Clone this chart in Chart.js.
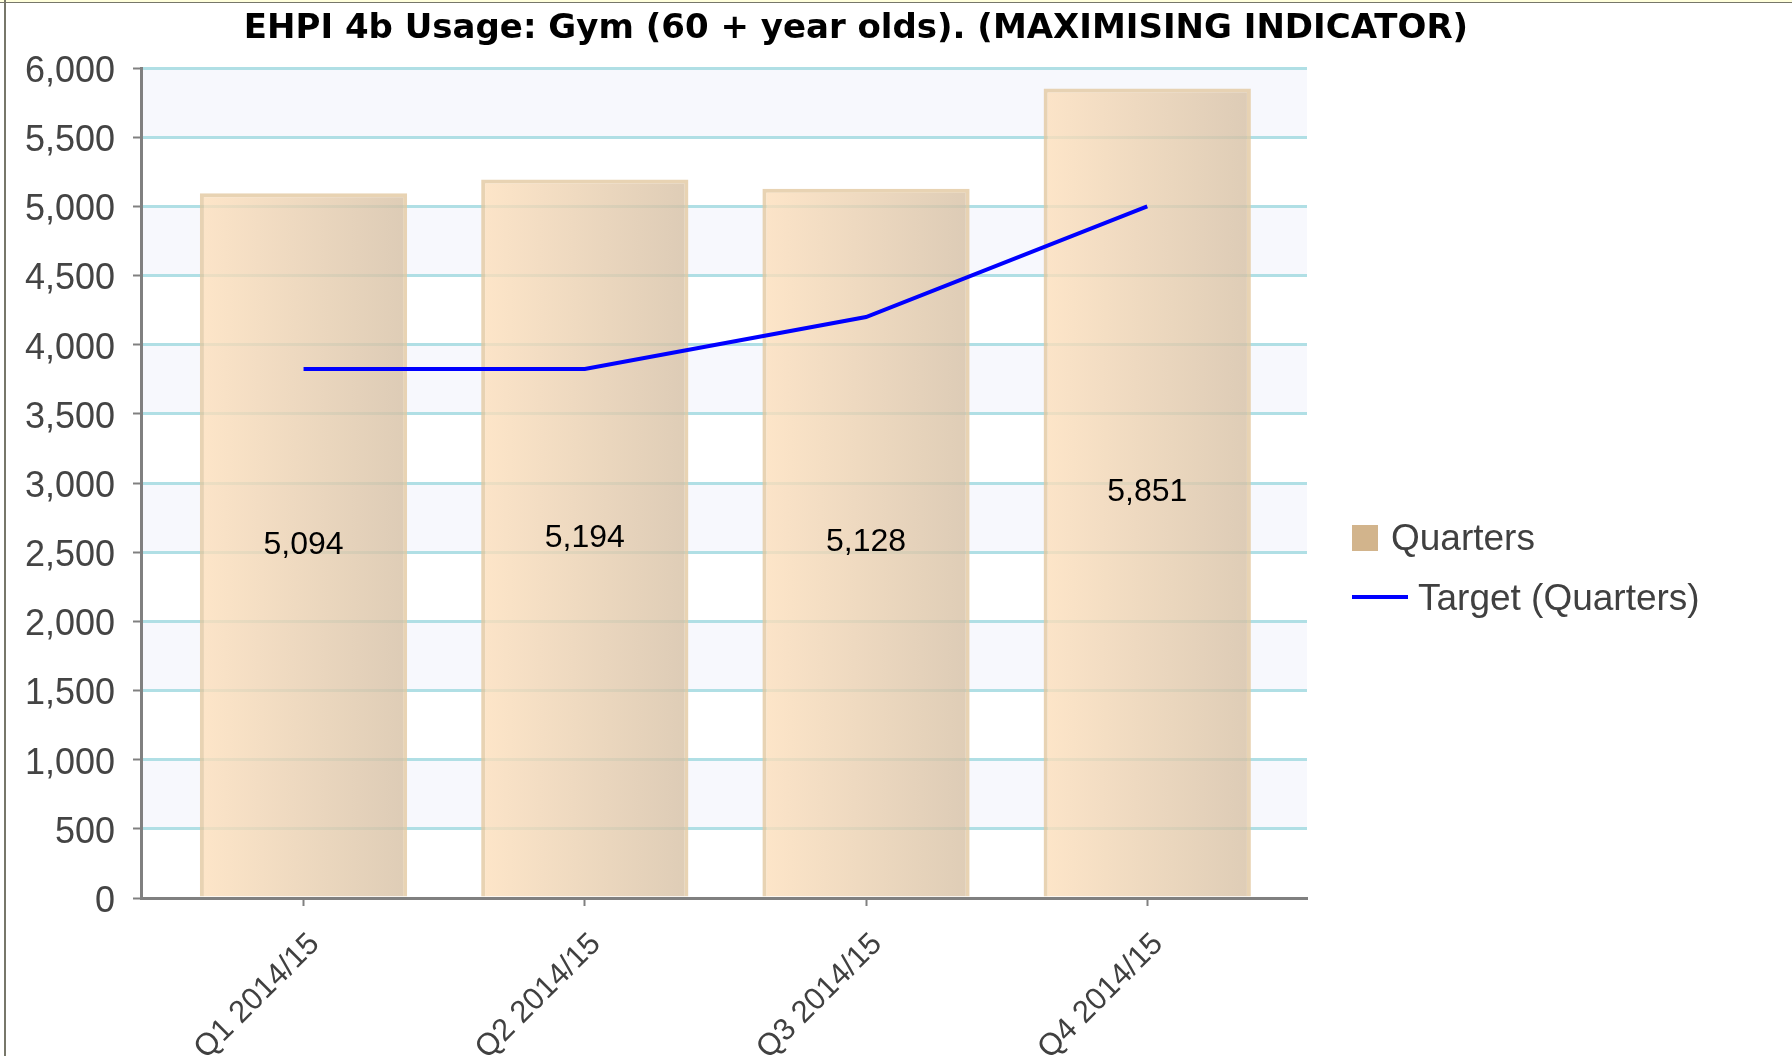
<!DOCTYPE html>
<html>
<head>
<meta charset="utf-8">
<script src="https://cdn.jsdelivr.net/npm/chart.js@4.4.0/dist/chart.umd.min.js"></script>
<style>
  html,body{margin:0;padding:0;background:#fff;}
  #wrap{position:relative;width:1792px;height:1056px;overflow:hidden;background:#fff;}
  #topband{position:absolute;left:0;top:0;width:1792px;height:2px;background:#ffffdc;}
  #topline{position:absolute;left:0;top:2px;width:1792px;height:1px;background:#77776a;}
  #leftline{position:absolute;left:4px;top:0;width:2px;height:1056px;background:#77776a;}
  #title{position:absolute;left:0;top:9px;width:1712px;text-align:center;font:bold 34px "DejaVu Sans";line-height:34px;color:#000;white-space:nowrap;}
  #cv{position:absolute;left:0;top:0;width:1792px;height:1056px;}
  .lg{position:absolute;left:1352px;font:37px "Liberation Sans";line-height:37px;color:#404040;white-space:nowrap;}
  .lg .sw{position:absolute;left:0;}
</style>
</head>
<body>
<div id="wrap">
  <div id="cv"><canvas id="ch"></canvas></div>
  <div id="topband"></div><div id="topline"></div><div id="leftline"></div>
  <div id="title">EHPI 4b Usage: Gym (60 + year olds). (MAXIMISING INDICATOR)</div>
  <div id="legend"></div>
</div>
<script>
// data
const quarters=['Q1 2014/15','Q2 2014/15','Q3 2014/15','Q4 2014/15'];
const usage=[5094,5194,5128,5851];
const target=[3825,3825,4200,5000];
const seriesNames=['Quarters','Target (Quarters)'];
const yTicks={min:0,max:6000,step:500};

const fmt=v=>v.toLocaleString('en-US');

// alternating pale bands behind the grid
const bands={
  id:'bands',
  beforeDraw(c){
    const {ctx,chartArea:a,scales:{y}}=c;
    ctx.save();
    ctx.fillStyle='#f7f8fd';
    y.ticks.forEach((t,i)=>{
      if(i%2===1&&i<y.ticks.length-1){
        const y1=y.getPixelForValue(y.ticks[i+1].value),y0=y.getPixelForValue(t.value);
        ctx.fillRect(a.left,y1,a.right-a.left,y0-y1);
      }
    });
    ctx.restore();
  }
};

// value in middle of each bar
const barLabels={
  id:'barLabels',
  afterDatasetsDraw(c){
    const ctx=c.ctx;
    const meta=c.getDatasetMeta(0);
    ctx.save();
    ctx.font='32px "Liberation Sans"';
    ctx.fillStyle='#000';
    ctx.textAlign='center';
    ctx.textBaseline='middle';
    meta.data.forEach((el,i)=>{
      ctx.fillText(fmt(usage[i]),el.x,(el.y+el.base)/2);
    });
    ctx.restore();
  }
};

function barFill(context){
  const c=context.chart;
  if(!c.chartArea) return 'rgba(240,220,190,0.8)';
  const x=c.scales.x;
  const half=(x.getPixelForValue(1)-x.getPixelForValue(0))*0.737/2;
  const cx=x.getPixelForValue(context.dataIndex);
  const g=c.ctx.createLinearGradient(cx-half,0,cx+half,0);
  g.addColorStop(0,'rgba(253,223,187,0.8)');
  g.addColorStop(1,'rgba(214,192,164,0.8)');
  return g;
}

const chart=new Chart(document.getElementById('ch'),{
  data:{
    datasets:[
      {type:'bar',label:seriesNames[0],order:1,
       data:usage.map((v,i)=>({x:i,y:v})),
       backgroundColor:barFill,borderColor:'rgba(226,200,160,0.8)',borderWidth:4,
       categoryPercentage:1,barPercentage:0.737},
      {type:'line',label:seriesNames[1],order:0,
       data:target.map((v,i)=>({x:i,y:v})),
       borderColor:'#0000ff',borderWidth:4,pointRadius:0,tension:0,fill:false}
    ]
  },
  options:{
    responsive:true,maintainAspectRatio:false,animation:false,
    layout:{padding:{left:0,top:68,right:485,bottom:0}},
    plugins:{legend:{display:false},tooltip:{enabled:false},title:{display:false}},
    scales:{
      x:{type:'linear',min:-0.578,max:3.568,offset:false,
        afterFit:s=>{s.height=158;},
        ticks:{stepSize:1,includeBounds:false,autoSkip:false,minRotation:45,maxRotation:45,
          callback:v=>quarters[v]??'',font:{family:'Liberation Sans',size:31},color:'#404040',
          padding:20,labelOffset:11},
        grid:{offset:false,drawOnChartArea:false,drawTicks:true,tickLength:8,tickColor:'#808080',tickWidth:2},
        border:{color:'#808080',width:3}},
      y:{min:yTicks.min,max:yTicks.max,
        afterFit:s=>{s.width=141;},
        ticks:{stepSize:yTicks.step,callback:v=>fmt(v),font:{family:'Liberation Sans',size:36},color:'#444',
          padding:18,labelOffset:4},
        grid:{color:c=>c.tick&&c.tick.value===0?'rgba(0,0,0,0)':'#b0dfe5',lineWidth:3,tickColor:'#808080',tickLength:8,tickWidth:2},
        border:{color:'#808080',width:3}}
    }
  },
  plugins:[bands,barLabels]
});

// legend: square for the bars, line for the target
const lg=document.getElementById('legend');
const items=[
  {text:seriesNames[0],top:519,sw:'width:26px;height:26px;top:6px;background:#d2b48c;',tx:39},
  {text:seriesNames[1],top:579,sw:'width:56px;height:4px;top:16px;background:#0000ff;',tx:66}
];
items.forEach(it=>{
  const d=document.createElement('div');
  d.className='lg';
  d.style.top=it.top+'px';
  d.innerHTML='<span class="sw" style="'+it.sw+'"></span><span style="margin-left:'+it.tx+'px">'+it.text+'</span>';
  lg.appendChild(d);
});
</script>
</body>
</html>
